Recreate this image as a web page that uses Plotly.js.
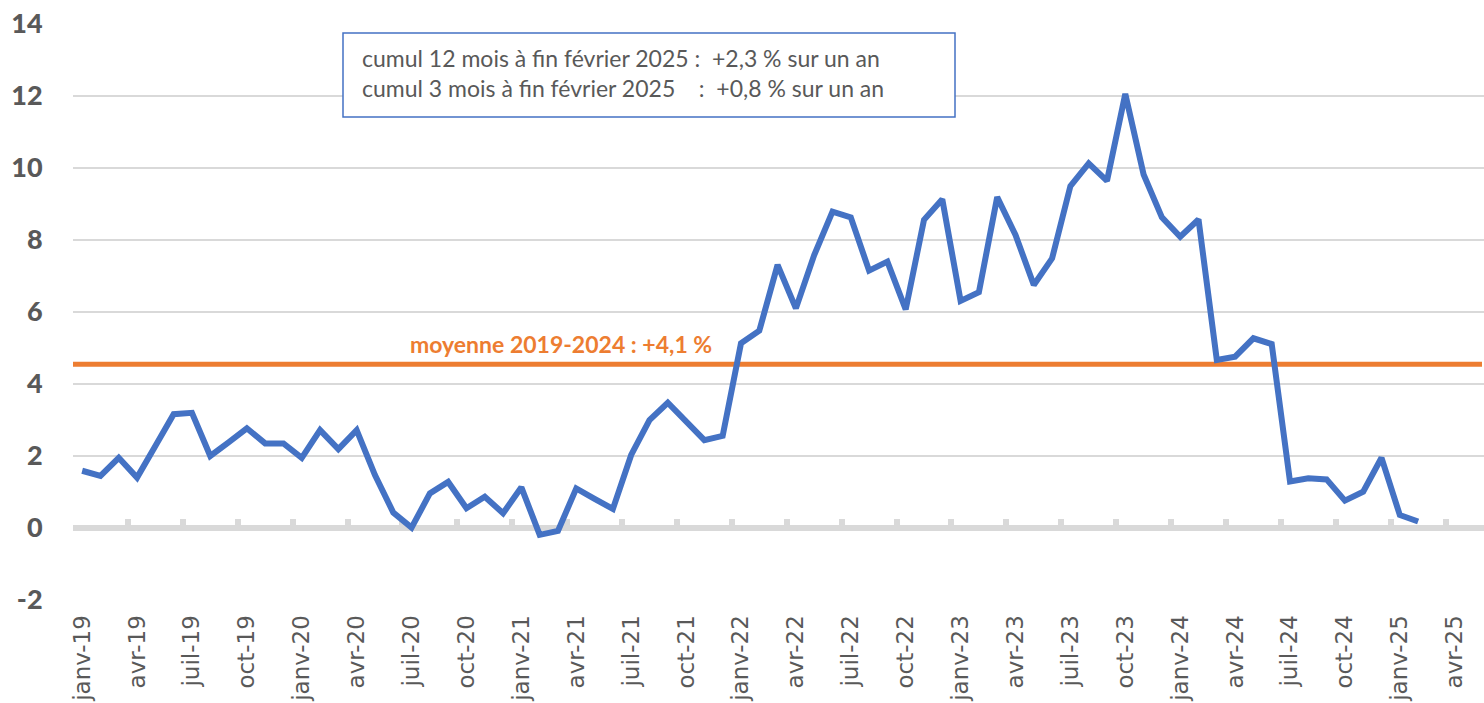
<!DOCTYPE html>
<html>
<head>
<meta charset="utf-8">
<script src="https://cdn.plot.ly/plotly-3.0.1.min.js"></script>
<style>
  html, body { margin: 0; padding: 0; background: #ffffff; }
  #chart { width: 1484px; height: 703px; }
</style>
</head>
<body>
<div id="chart"></div>
<script>
// ---- Data -------------------------------------------------------------
const monthNames = ['janv', 'févr', 'mars', 'avr', 'mai', 'juin', 'juil', 'août', 'sept', 'oct', 'nov', 'déc'];
const years = ['19', '20', '21', '22', '23', '24', '25'];
const lastMonthIndex = 3; // axis runs to avr-25

// monthly values, janv-19 .. févr-25
const values2019 = [1.59, 1.45, 1.95, 1.40, 2.28, 3.16, 3.20, 2.00, 2.38, 2.77, 2.35, 2.35];
const values2020 = [1.95, 2.72, 2.19, 2.72, 1.47, 0.43, 0.01, 0.96, 1.28, 0.55, 0.87, 0.41];
const values2021 = [1.13, -0.19, -0.08, 1.10, 0.81, 0.53, 2.03, 3.00, 3.48, 2.96, 2.44, 2.56];
const values2022 = [5.13, 5.48, 7.31, 6.10, 7.58, 8.79, 8.63, 7.15, 7.40, 6.07, 8.56, 9.13];
const values2023 = [6.31, 6.55, 9.19, 8.14, 6.75, 7.49, 9.50, 10.13, 9.64, 12.06, 9.82, 8.63];
const values2024 = [8.09, 8.57, 4.67, 4.76, 5.27, 5.11, 1.29, 1.38, 1.35, 0.76, 1.01, 1.95];
const values2025 = [0.36, 0.18];

const yTickValues = [-2, 0, 2, 4, 6, 8, 10, 12, 14];
const yTickText = ['-2', '0', '2', '4', '6', '8', '10', '12', '14'];

const averageValue = 4.55;
const averageLabel = 'moyenne 2019-2024 : +4,1 %';
const boxLines = [
  'cumul 12 mois à fin février 2025 :\u00a0\u00a0+2,3 % sur un an',
  'cumul 3 mois à fin février 2025\u00a0\u00a0\u00a0\u00a0:\u00a0\u00a0+0,8 % sur un an'
];

// ---- Build categories ----------------------------------------------------
const categories = [];
years.forEach((y, yi) => {
  monthNames.forEach((m, mi) => {
    if (yi < years.length - 1 || mi <= lastMonthIndex) categories.push(m + '-' + y);
  });
});
const tickLabels = categories.filter((c, i) => i % 3 === 0);
const values = [].concat(values2019, values2020, values2021, values2022, values2023, values2024, values2025);
const xData = categories.slice(0, values.length);

// ---- Layout helpers ------------------------------------------------------
const W = 1484, H = 703;
const M = { l: 73, r: 0, t: 24, b: 103 };
const pw = W - M.l - M.r, ph = H - M.t - M.b;
const px = x => (x - M.l) / pw;
const py = y => (H - M.b - y) / ph;
const xRange = [-0.5, 76.6];
const yRange = [-2, 14];

const traces = [
  {
    type: 'scatter', mode: 'lines',
    x: xData, y: values,
    line: { color: '#4472c4', width: 6, shape: 'linear' },
    hoverinfo: 'x+y', showlegend: false
  },
  {
    type: 'scatter', mode: 'lines', x: [], y: [], xaxis: 'x2', yaxis: 'y',
    showlegend: false, hoverinfo: 'skip'
  }
];

const layout = {
  width: W, height: H,
  margin: M,
  paper_bgcolor: '#ffffff', plot_bgcolor: '#ffffff',
  showlegend: false,
  xaxis: {
    type: 'category',
    categoryorder: 'array', categoryarray: categories,
    range: xRange,
    showgrid: false, zeroline: false, showline: false,
    tickmode: 'array', tickvals: tickLabels, ticktext: tickLabels,
    tickangle: -90,
    ticks: 'outside', ticklen: 5, tickcolor: 'rgba(0,0,0,0)',
    tickfont: { family: 'DejaVu Sans', size: 23, color: '#595959' }
  },
  xaxis2: {
    type: 'linear', overlaying: 'x', anchor: 'free', position: py(528),
    range: xRange,
    showgrid: false, zeroline: false, showline: false, showticklabels: false,
    tickmode: 'linear', tick0: -0.5, dtick: 3,
    ticks: 'inside', ticklen: 9, tickwidth: 6, tickcolor: '#d9d9d9',
    layer: 'below traces'
  },
  yaxis: {
    range: yRange,
    tickmode: 'array', tickvals: yTickValues, ticktext: yTickText,
    showgrid: true, gridcolor: '#d9d9d9', gridwidth: 1.5,
    zeroline: true, zerolinecolor: '#d9d9d9', zerolinewidth: 6,
    showline: false,
    ticks: 'outside', ticklen: 24, tickcolor: 'rgba(0,0,0,0)',
    tickfont: { family: 'Lato', size: 27, color: '#595959', weight: 900 }
  },
  shapes: [
    {
      type: 'line', xref: 'paper', yref: 'y',
      x0: 0, x1: px(1482), y0: averageValue, y1: averageValue,
      line: { color: '#ed7d31', width: 5 }, layer: 'below'
    },
    {
      type: 'rect', xref: 'paper', yref: 'paper',
      x0: px(343), x1: px(955), y0: py(117), y1: py(33),
      line: { color: '#4472c4', width: 1.5 }, fillcolor: '#ffffff', layer: 'above'
    }
  ],
  annotations: [
    {
      xref: 'paper', yref: 'paper', x: px(360), y: py(73),
      xanchor: 'left', yanchor: 'middle', align: 'left', showarrow: false,
      text: boxLines.join('<br>'),
      font: { family: 'Lato', size: 23, color: '#595959' }
    },
    {
      xref: 'paper', yref: 'paper', x: px(561), y: py(344),
      xanchor: 'center', yanchor: 'middle', showarrow: false,
      text: '<b>' + averageLabel + '</b>',
      font: { family: 'Lato', size: 23, color: '#ed7d31' }
    }
  ]
};

Plotly.newPlot('chart', traces, layout, { displayModeBar: false, staticPlot: true });
</script>
</body>
</html>
